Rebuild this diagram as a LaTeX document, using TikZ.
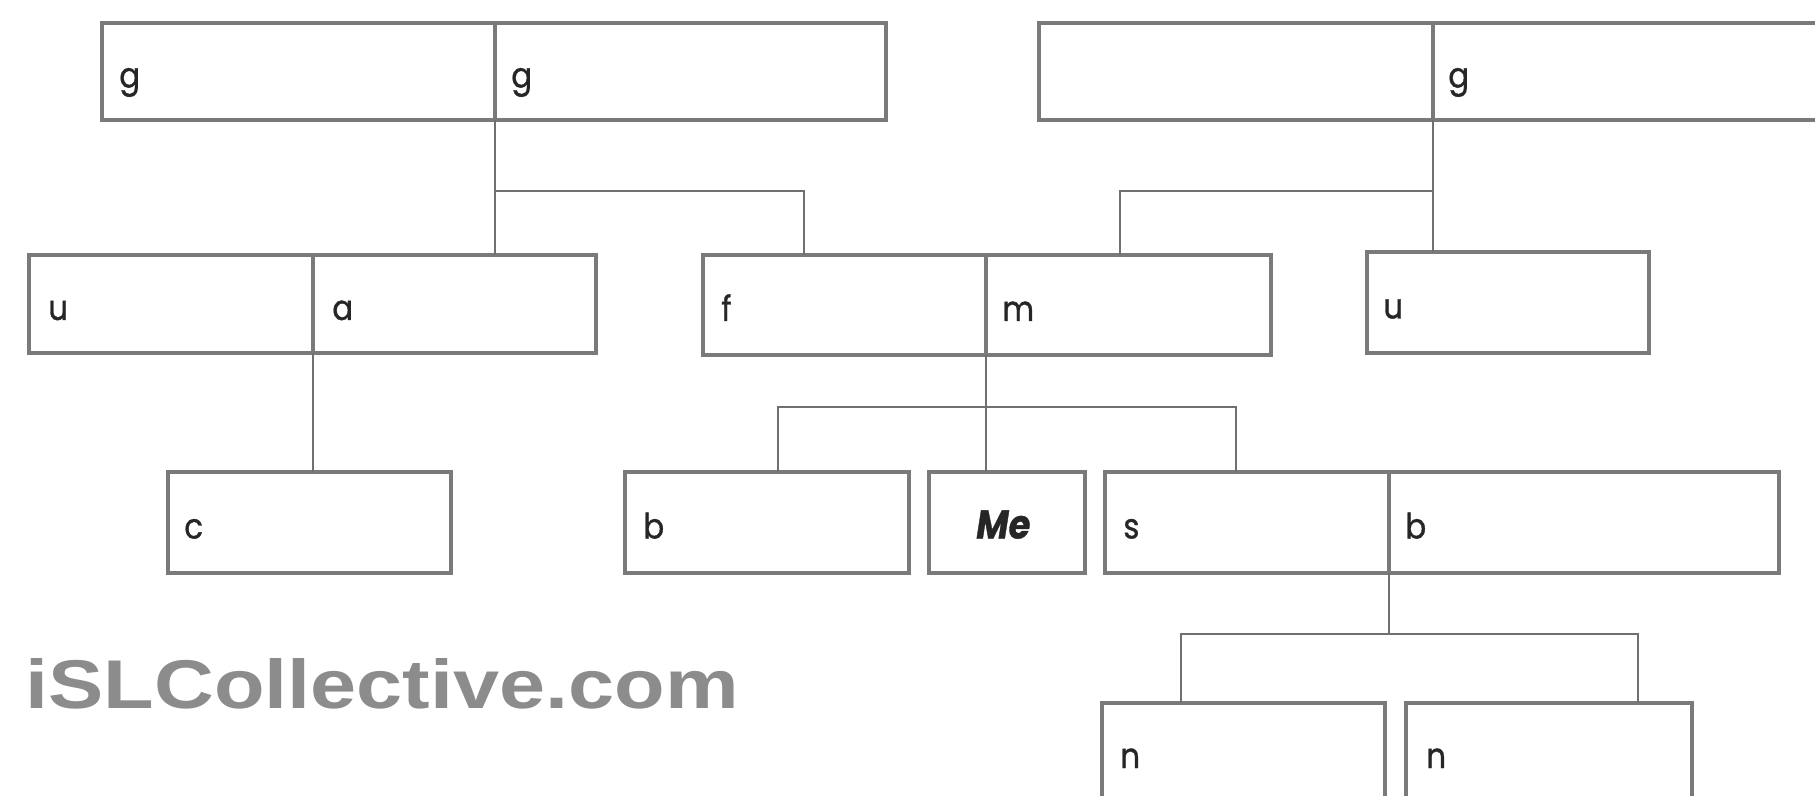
\documentclass[tikz,border=0pt]{standalone}
\usepackage{fontspec}
\usepackage{tikz}
\usetikzlibrary{positioning,calc}
\newfontfamily\cellfont[FakeBold=1]{Poppins}
\newfontfamily\markfont{Liberation Sans}
\definecolor{boxbd}{HTML}{7A7A7A}
\definecolor{linkgray}{HTML}{707070}
\definecolor{inkdark}{HTML}{262626}
\definecolor{markgray}{HTML}{8C8C8C}
\tikzset{
  cell/.style={draw=boxbd,line width=1.9pt,fill=white,anchor=north west,
               inner sep=0pt,outer sep=0pt},
  lbl/.style={anchor=base west,inner sep=0pt,text=inkdark,xscale=0.88,
              font=\cellfont\fontsize{17.5}{20}\selectfont},
  link/.style={draw=linkgray,line width=1.3pt},
  watermark/.style={anchor=base west,inner sep=0pt,text=markgray,
                    font=\markfont\bfseries\fontsize{34.5}{36}\selectfont},
}

\begin{document}
\begin{tikzpicture}[x=0.5pt,y=-0.5pt]
  \useasboundingbox (0,0) rectangle (1815,796);
  \clip (0,0) rectangle (1815,796);
  % boxes: name/left/top/right/bottom/text offset/text
  \foreach \nm/\xa/\ya/\xb/\yb/\off/\txt in {%
    gL/102/23/495/120/8.5/g,
    gR/495/23/886/120/8/g,
    hL/1039/23/1433/120/9/{},
    hR/1433/23/1830/120/7.5/g,
    uL/29/255/313/353/9.5/u,
    uR/313/255/596/353/9.5/a,
    fL/703/255/986/355/9/f,
    fR/986/255/1271/355/8/m,
    uS/1367/252/1649/353/8/u,
    cS/168/472/451/573/8/c,
    bS/625/472/909/573/9/b,
    meS/929/472/1085/573/23.5/{\fontsize{20}{22}\selectfont\textbf{\textit{Me}}},
    sL/1105/472/1389/573/9/s,
    sR/1389/472/1779/573/8/b,
    nL/1102/703/1385/801/9/n,
    nR/1406/703/1692/801/10/n%
  }{%
    \pgfmathsetmacro{\w}{(\xb-\xa)*0.5}
    \pgfmathsetmacro{\h}{(\yb-\ya)*0.5}
    \node[cell,minimum width=\w pt,minimum height=\h pt] (\nm) at (\xa,\ya) {};
    \node[lbl] (t\nm) at ([xshift=\off pt,yshift=-8pt]\nm.west) {\txt};
  }

  % joints of the connectors
  \coordinate (jA) at (804,191);
  \coordinate (jB) at (1120,191);
  \coordinate (jC1) at (778,407);
  \coordinate (jC2) at (1236,407);
  \coordinate (jD1) at (1181,634);
  \coordinate (jD2) at (1638,634);

  % left top box
  \draw[link] (gR.south west) -- (gR.south west |- uR.north);
  \draw[link] (gR.south west |- jA) -| (fL.north -| jA);
  % right top box
  \draw[link] (hR.south west) -- (hR.south west |- uS.north);
  \draw[link] (hR.south west |- jB) -| (fR.north -| jB);
  % second row
  \draw[link] (uR.south west) -- (uR.south west |- cS.north);
  \draw[link] (fR.south west) -- (fR.south west |- meS.north);
  \draw[link] (bS.north -| jC1) -- (jC1) -- (jC2) -- (sL.north -| jC2);
  % third row
  \draw[link] (sR.south west) -- (sR.south west |- jD1);
  \draw[link] (nL.north -| jD1) -- (jD1) -- (jD2) -- (nR.north -| jD2);

  \node[watermark,xscale=1.2] (mark) at (25,708) {iSLCollective.com};
\end{tikzpicture}
\end{document}
